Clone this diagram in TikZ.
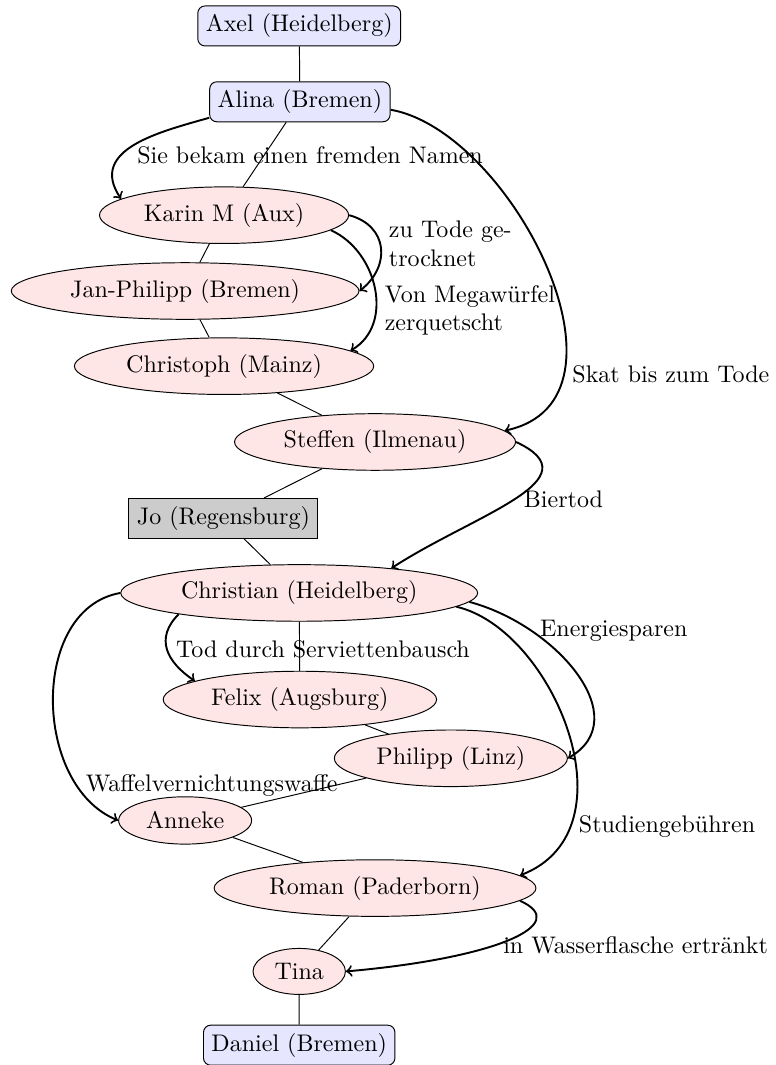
\documentclass[tikz,border=0pt]{standalone}
\usepackage{xcolor}
\usepackage{tikz}
\usetikzlibrary{shapes.geometric}
\definecolor{endcolor}{RGB}{230,230,255}
\definecolor{membercolor}{RGB}{255,230,230}
\definecolor{jocolor}{RGB}{204,204,204}

\tikzset{
    endbox/.style={draw, rounded corners=3pt, fill=endcolor},
    member/.style={draw, ellipse, fill=membercolor},
    jobox/.style={draw, fill=jocolor},
    fate/.style={->, thick},
    fatelabel/.style={right, align=left}
}

\begin{document}
\begin{tikzpicture}
    \useasboundingbox (0,0) rectangle (11.35,-15.59);

    % Chain of people
    \node[endbox] (axel) at (4.38,-0.38) {Axel (Heidelberg)};
    \node[endbox] (alina) at (4.39,-1.49) {Alina (Bremen)};
    \node[member] (karin) at (3.28,-3.15) {Karin M (Aux)};
    \node[member] (janphilipp) at (2.71,-4.26) {Jan-Philipp (Bremen)};
    \node[member] (christoph) at (3.28,-5.36) {Christoph (Mainz)};
    \node[member] (steffen) at (5.49,-6.47) {Steffen (Ilmenau)};
    \node[jobox] (jo) at (3.27,-7.59) {Jo (Regensburg)};
    \node[member] (christian) at (4.38,-8.68) {Christian (Heidelberg)};
    \node[member] (felix) at (4.39,-10.24) {Felix (Augsburg)};
    \node[member] (philipp) at (6.60,-11.10) {Philipp (Linz)};
    \node[member] (anneke) at (2.71,-12.01) {Anneke};
    \node[member] (roman) at (5.49,-13.00) {Roman (Paderborn)};
    \node[member] (tina) at (4.38,-14.22) {Tina};
    \node[endbox] (daniel) at (4.38,-15.30) {Daniel (Bremen)};

    % Handovers
    \draw (axel) -- (alina) -- (karin) -- (janphilipp) -- (christoph) -- (steffen)
        -- (jo) -- (christian) -- (felix) -- (philipp) -- (anneke) -- (roman)
        -- (tina) -- (daniel);

    % Fates
    \draw[fate] (alina.190) .. controls +(196:0.73) and +(124:0.88) .. (karin.171)
        node[fatelabel, pos=0.63, xshift=3pt] {Sie bekam einen fremden Namen};
    \draw[fate] (alina.-5) .. controls +(-10:1.8) and +(12:2.14) .. (steffen.5)
        node[fatelabel, pos=0.76] {Skat bis zum Tode};
    \draw[fate] (karin.east) .. controls +(-15:0.59) and +(38:0.59) .. (janphilipp.east)
        node[fatelabel, pos=0.45] {zu Tode ge-\\trocknet};
    \draw[fate] (karin.-8) .. controls +(-24:0.75) and +(30:0.75) .. (christoph.7)
        node[fatelabel, pos=0.65] {Von Megawürfel\\zerquetscht};
    \draw[fate] (steffen.east) .. controls +(-25:1.30) and +(33:1.45) .. (christian.15)
        node[fatelabel, pos=0.5] {Biertod};
    \draw[fate] (christian.west) .. controls +(190:1.35) and +(158:1.35) .. (anneke.west)
        node[fatelabel, pos=0.8] {Waffelvernichtungswaffe};
    \draw[fate] (christian.190) .. controls +(225:0.5) and +(146:0.5) .. (felix.170)
        node[fatelabel, pos=0.5] {Tod durch Serviettenbausch};
    \draw[fate] (christian.-3) .. controls +(-15:1.32) and +(30:1.16) .. (philipp.east)
        node[fatelabel, pos=0.25] {Energiesparen};
    \draw[fate] (christian.-5) .. controls +(-13:1.46) and +(21:1.83) .. (roman.5)
        node[fatelabel, pos=0.78] {Studiengebühren};
    \draw[fate] (roman.-5) .. controls +(-24:0.85) and +(5:2.2) .. (tina.east)
        node[fatelabel, pos=0.57] {in Wasserflasche ertränkt};
\end{tikzpicture}
\end{document}
